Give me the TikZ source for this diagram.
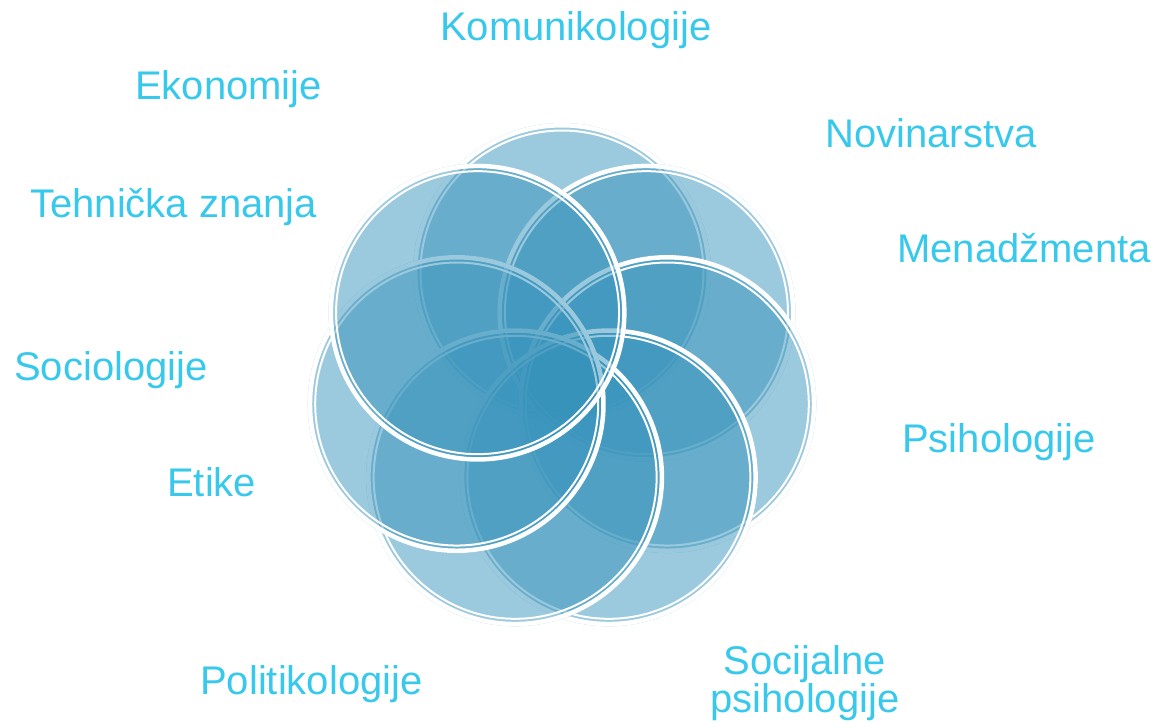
\documentclass[tikz,border=0pt]{standalone}
\usepackage{fontspec}
\setmainfont{Liberation Sans}
\definecolor{petalblue}{RGB}{55,147,187}
\definecolor{textcyan}{RGB}{56,200,236}
\tikzset{
  petal/.style={fill=petalblue,fill opacity=0.5},
  rim/.style={draw=white,line width=3.4pt},
  innerrim/.style={draw=white,line width=1.5pt},
  lbl/.style={text=textcyan,font=\fontsize{30}{28.5}\selectfont,inner sep=0pt,anchor=base west}
}
\begin{document}
\begin{tikzpicture}[x=0.75pt,y=-0.75pt]
\useasboundingbox (0,0) rectangle (1157,726);
% seven petals, clockwise from the top, each one laid over the one before
\foreach \k in {0,...,6}{
  \pgfmathsetmacro{\a}{90-\k*360/7}
  \coordinate (c\k) at ({562+108*cos(\a)},{380-108*sin(\a)});
  \fill[petal] (c\k) circle (149);
  \draw[rim] (c\k) circle (146.75);
  \draw[innerrim] (c\k) circle (141.5);
}
% labels round the flower
\node[lbl] (komunik) at (440,40) {Komunikologije};
\node[lbl] (novinar) at (825,147) {Novinarstva};
\node[lbl] (menadz) at (897,262) {Menadžmenta};
\node[lbl] (psiho) at (902,452) {Psihologije};
\node[lbl,anchor=center,align=center] (socpsi) at (805,683) {Socijalne\\psihologije};
\node[lbl] (polit) at (200,694) {Politikologije};
\node[lbl] (etika) at (167,496) {Etike};
\node[lbl] (socio) at (14,380) {Sociologije};
\node[lbl] (tehn) at (30,217) {Tehnička znanja};
\node[lbl] (ekon) at (135,99) {Ekonomije};
\end{tikzpicture}
\end{document}
